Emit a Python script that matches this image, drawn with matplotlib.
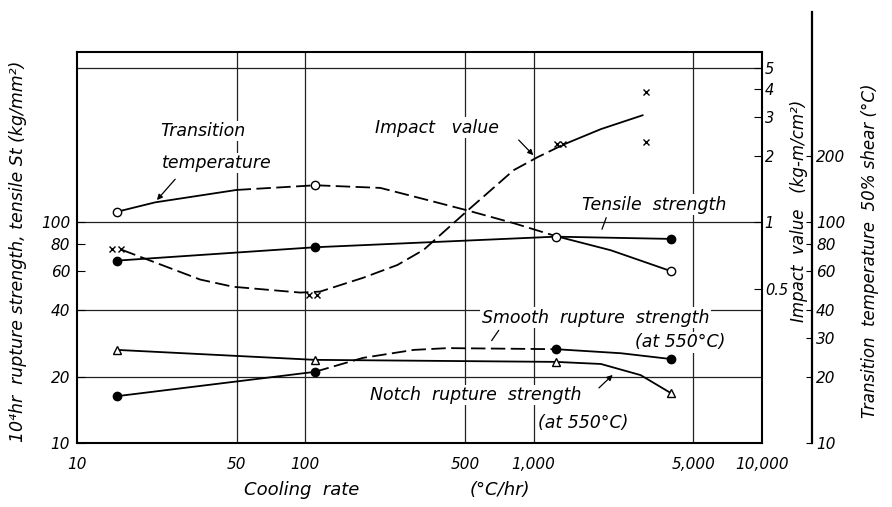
import matplotlib
matplotlib.use("Agg")
import matplotlib.pyplot as plt
from matplotlib.lines import Line2D
from matplotlib.ticker import NullLocator

plt.rcParams['font.family'] = ['DejaVu Sans']
plt.rcParams['font.style'] = 'italic'

# measured points (cooling rate, degC/hr)
rate_pts = [15, 110, 1250, 4000]
tensile = [67, 77, 86, 84]            # kg/mm2
trans_temp = [111, 147, 86, 60]       # degC, 50% shear
smooth_rup = [16.3, 21, 26.6, 24]     # kg/mm2 at 550 C
notch_rup = [26.4, 23.8, 23.3, 16.8]  # kg/mm2 at 550 C

# impact value crosses (kg-m/cm2)
impact_x = [14.3, 15.6, 104, 113, 1260, 1350, 3100, 3100]
impact_v = [0.76, 0.76, 0.47, 0.47, 2.25, 2.25, 3.9, 2.3]

# faired curves
trans_curve_x = [14.7, 22, 50, 111, 213, 343, 514, 817, 1250, 2180, 4000]
trans_curve_y = [111, 123, 140, 147, 143, 126, 113, 99, 86.5, 74.6, 60]
impact_curve_x = [15.7, 34.6, 48.3, 95, 116, 179, 253, 330, 514, 817, 1040, 1355, 1970, 3000]
impact_curve_v = [0.75, 0.55, 0.51, 0.48, 0.485, 0.56, 0.64, 0.75, 1.13, 1.72, 1.97, 2.25, 2.64, 3.05]
smooth_curve_x = [15, 48, 110, 179, 298, 420, 1250, 2410, 4000]
smooth_curve_y = [16.3, 18.9, 21, 24.3, 26.4, 26.9, 26.6, 25.5, 24]
notch_curve_x = [15, 110, 1250, 1970, 2940, 4000]
notch_curve_y = [26.4, 23.8, 23.3, 22.8, 20.3, 16.8]

x_ticks = [10, 50, 100, 500, 1000, 5000, 10000]
x_labels = ['10', '50', '100', '500', '1,000', '5,000', '10,000']
left_ticks = [10, 20, 40, 60, 80, 100]
impact_ticks = [0.5, 1, 2, 3, 4, 5]
trans_ticks = [10, 20, 30, 40, 60, 80, 100, 200]
x_grid = [50, 100, 500, 1000, 5000]
y_grid = [20, 40, 100, 500]

fig = plt.figure(figsize=(8.92, 5.07), dpi=100)
ax = fig.add_axes([77 / 892, 1 - 443 / 507, 685 / 892, 391 / 507])
ax.set_xscale('log')
ax.set_yscale('log')
ax.set_xlim(10, 10000)
ax.set_ylim(10, 590)

for g in x_grid:
    ax.axvline(g, color='#222222', lw=0.9, zorder=1)
for g in y_grid:
    ax.axhline(g, color='#222222', lw=0.9, zorder=1)

lw = 1.3
dash = (8, 3)

# tensile strength
ax.plot(rate_pts, tensile, '-', color='k', lw=lw, zorder=3)
ax.plot([rate_pts[i] for i in (0, 1, 3)], [tensile[i] for i in (0, 1, 3)], 'o',
        color='k', ms=6, zorder=4)

# transition temperature
ax.plot(trans_curve_x[:3], trans_curve_y[:3], '-', color='k', lw=lw, zorder=3)
ax.plot(trans_curve_x[2:9], trans_curve_y[2:9], color='k', lw=lw, dashes=dash, zorder=3)
ax.plot(trans_curve_x[8:], trans_curve_y[8:], '-', color='k', lw=lw, zorder=3)
ax.plot(rate_pts, trans_temp, 'o', mfc='white', mec='k', mew=1.0, ms=6, zorder=5)

# smooth rupture strength
ax.plot(smooth_curve_x[:3], smooth_curve_y[:3], '-', color='k', lw=lw, zorder=3)
ax.plot(smooth_curve_x[2:7], smooth_curve_y[2:7], color='k', lw=lw, dashes=dash, zorder=3)
ax.plot(smooth_curve_x[6:], smooth_curve_y[6:], '-', color='k', lw=lw, zorder=3)
ax.plot(rate_pts, smooth_rup, 'o', color='k', ms=6, zorder=4)

# notch rupture strength
ax.plot(notch_curve_x, notch_curve_y, '-', color='k', lw=lw, zorder=3)
ax.plot(rate_pts, notch_rup, '^', mfc='white', mec='k', mew=1.0, ms=6, zorder=5)

ax.set_xticks(x_ticks, x_labels)
ax.xaxis.set_minor_locator(NullLocator())
ax.set_yticks(left_ticks, [str(t) for t in left_ticks])
ax.yaxis.set_minor_locator(NullLocator())
ax.tick_params(axis='x', length=0, pad=10, labelsize=11)
ax.tick_params(axis='y', direction='in', length=6, pad=5, labelsize=11)
for s in ax.spines.values():
    s.set_linewidth(1.5)

# impact value axis (right frame edge)
ax2 = ax.twinx()
ax2.set_yscale('log')
ax2.set_ylim(0.1, 5.9)
ax2.plot(impact_curve_x[:12], impact_curve_v[:12], color='k', lw=lw, dashes=dash, zorder=3)
ax2.plot(impact_curve_x[11:], impact_curve_v[11:], '-', color='k', lw=lw, zorder=3)
ax2.plot(impact_x, impact_v, 'x', color='k', ms=5, mew=1.0, zorder=4)
ax2.set_yticks(impact_ticks, ['0.5', '1', '2', '3', '4', '5'])
ax2.yaxis.set_minor_locator(NullLocator())
ax2.tick_params(axis='y', direction='in', length=6, pad=2, labelsize=10.5)
for s in ax2.spines.values():
    s.set_visible(False)

# transition temperature axis (outer spine)
ax3 = ax.twinx()
ax3.set_yscale('log')
ax3.set_ylim(10, 590)
ax3.spines['right'].set_position(('axes', 1.073))
for name in ('left', 'top', 'bottom', 'right'):
    ax3.spines[name].set_visible(False)
ax3.add_line(Line2D([1.073, 1.073], [0, 1.102], transform=ax3.transAxes,
                    color='k', lw=1.6, clip_on=False))
ax3.set_yticks(trans_ticks, [str(t) for t in trans_ticks])
ax3.yaxis.set_minor_locator(NullLocator())
ax3.tick_params(axis='y', direction='in', length=4, pad=3, labelsize=11)

# curve labels
box = dict(facecolor='white', edgecolor='none', pad=1)
fs = 12.5
arrow_head = dict(arrowstyle='-|>', color='k', lw=0.9, mutation_scale=8)
arrow_line = dict(arrowstyle='-', color='k', lw=0.9)
ax.text(0.121, 0.798, 'Transition', transform=ax.transAxes, fontsize=fs, va='center', bbox=box)
ax.text(0.124, 0.716, 'temperature', transform=ax.transAxes, fontsize=fs, va='center', bbox=box)
ax.annotate('', xy=(0.114, 0.616), xytext=(0.146, 0.680), xycoords='axes fraction',
            arrowprops=arrow_head)
ax.text(0.435, 0.806, 'Impact   value', transform=ax.transAxes, fontsize=fs, va='center', bbox=box)
ax.annotate('', xy=(0.669, 0.731), xytext=(0.642, 0.780), xycoords='axes fraction',
            arrowprops=arrow_head)
ax.text(0.737, 0.609, 'Tensile  strength', transform=ax.transAxes, fontsize=fs, va='center', bbox=box)
ax.annotate('', xy=(0.765, 0.540), xytext=(0.774, 0.583), xycoords='axes fraction',
            arrowprops=arrow_line)
ax.text(0.591, 0.320, 'Smooth  rupture  strength', transform=ax.transAxes, fontsize=fs,
        va='center', bbox=box)
ax.text(0.815, 0.258, '(at 550°C)', transform=ax.transAxes, fontsize=fs, va='center', bbox=box)
ax.annotate('', xy=(0.603, 0.256), xytext=(0.618, 0.294), xycoords='axes fraction',
            arrowprops=arrow_line)
ax.text(0.428, 0.123, 'Notch  rupture  strength', transform=ax.transAxes, fontsize=fs,
        va='center', bbox=box)
ax.text(0.673, 0.051, '(at 550°C)', transform=ax.transAxes, fontsize=fs, va='center', bbox=box)
ax.annotate('', xy=(0.785, 0.179), xytext=(0.759, 0.136), xycoords='axes fraction',
            arrowprops=arrow_head)

# axis titles
fig.text(0.020, 0.505, '10⁴hr  rupture strength, tensile St (kg/mm²)', rotation=90,
         ha='center', va='center', fontsize=12.5)
fig.text(302 / 892, 1 - 490 / 507, 'Cooling  rate', ha='center', va='center', fontsize=13)
fig.text(500 / 892, 1 - 490 / 507, '(°C/hr)', ha='center', va='center', fontsize=13)
fig.text(799 / 892, 1 - 211 / 507, 'Impact  value   (kg-m/cm²)', rotation=90,
         ha='center', va='center', fontsize=12)
fig.text(870 / 892, 1 - 251 / 507, 'Transition  temperature  50% shear (°C)', rotation=90,
         ha='center', va='center', fontsize=12)

fig.savefig('out.png', dpi=100)
